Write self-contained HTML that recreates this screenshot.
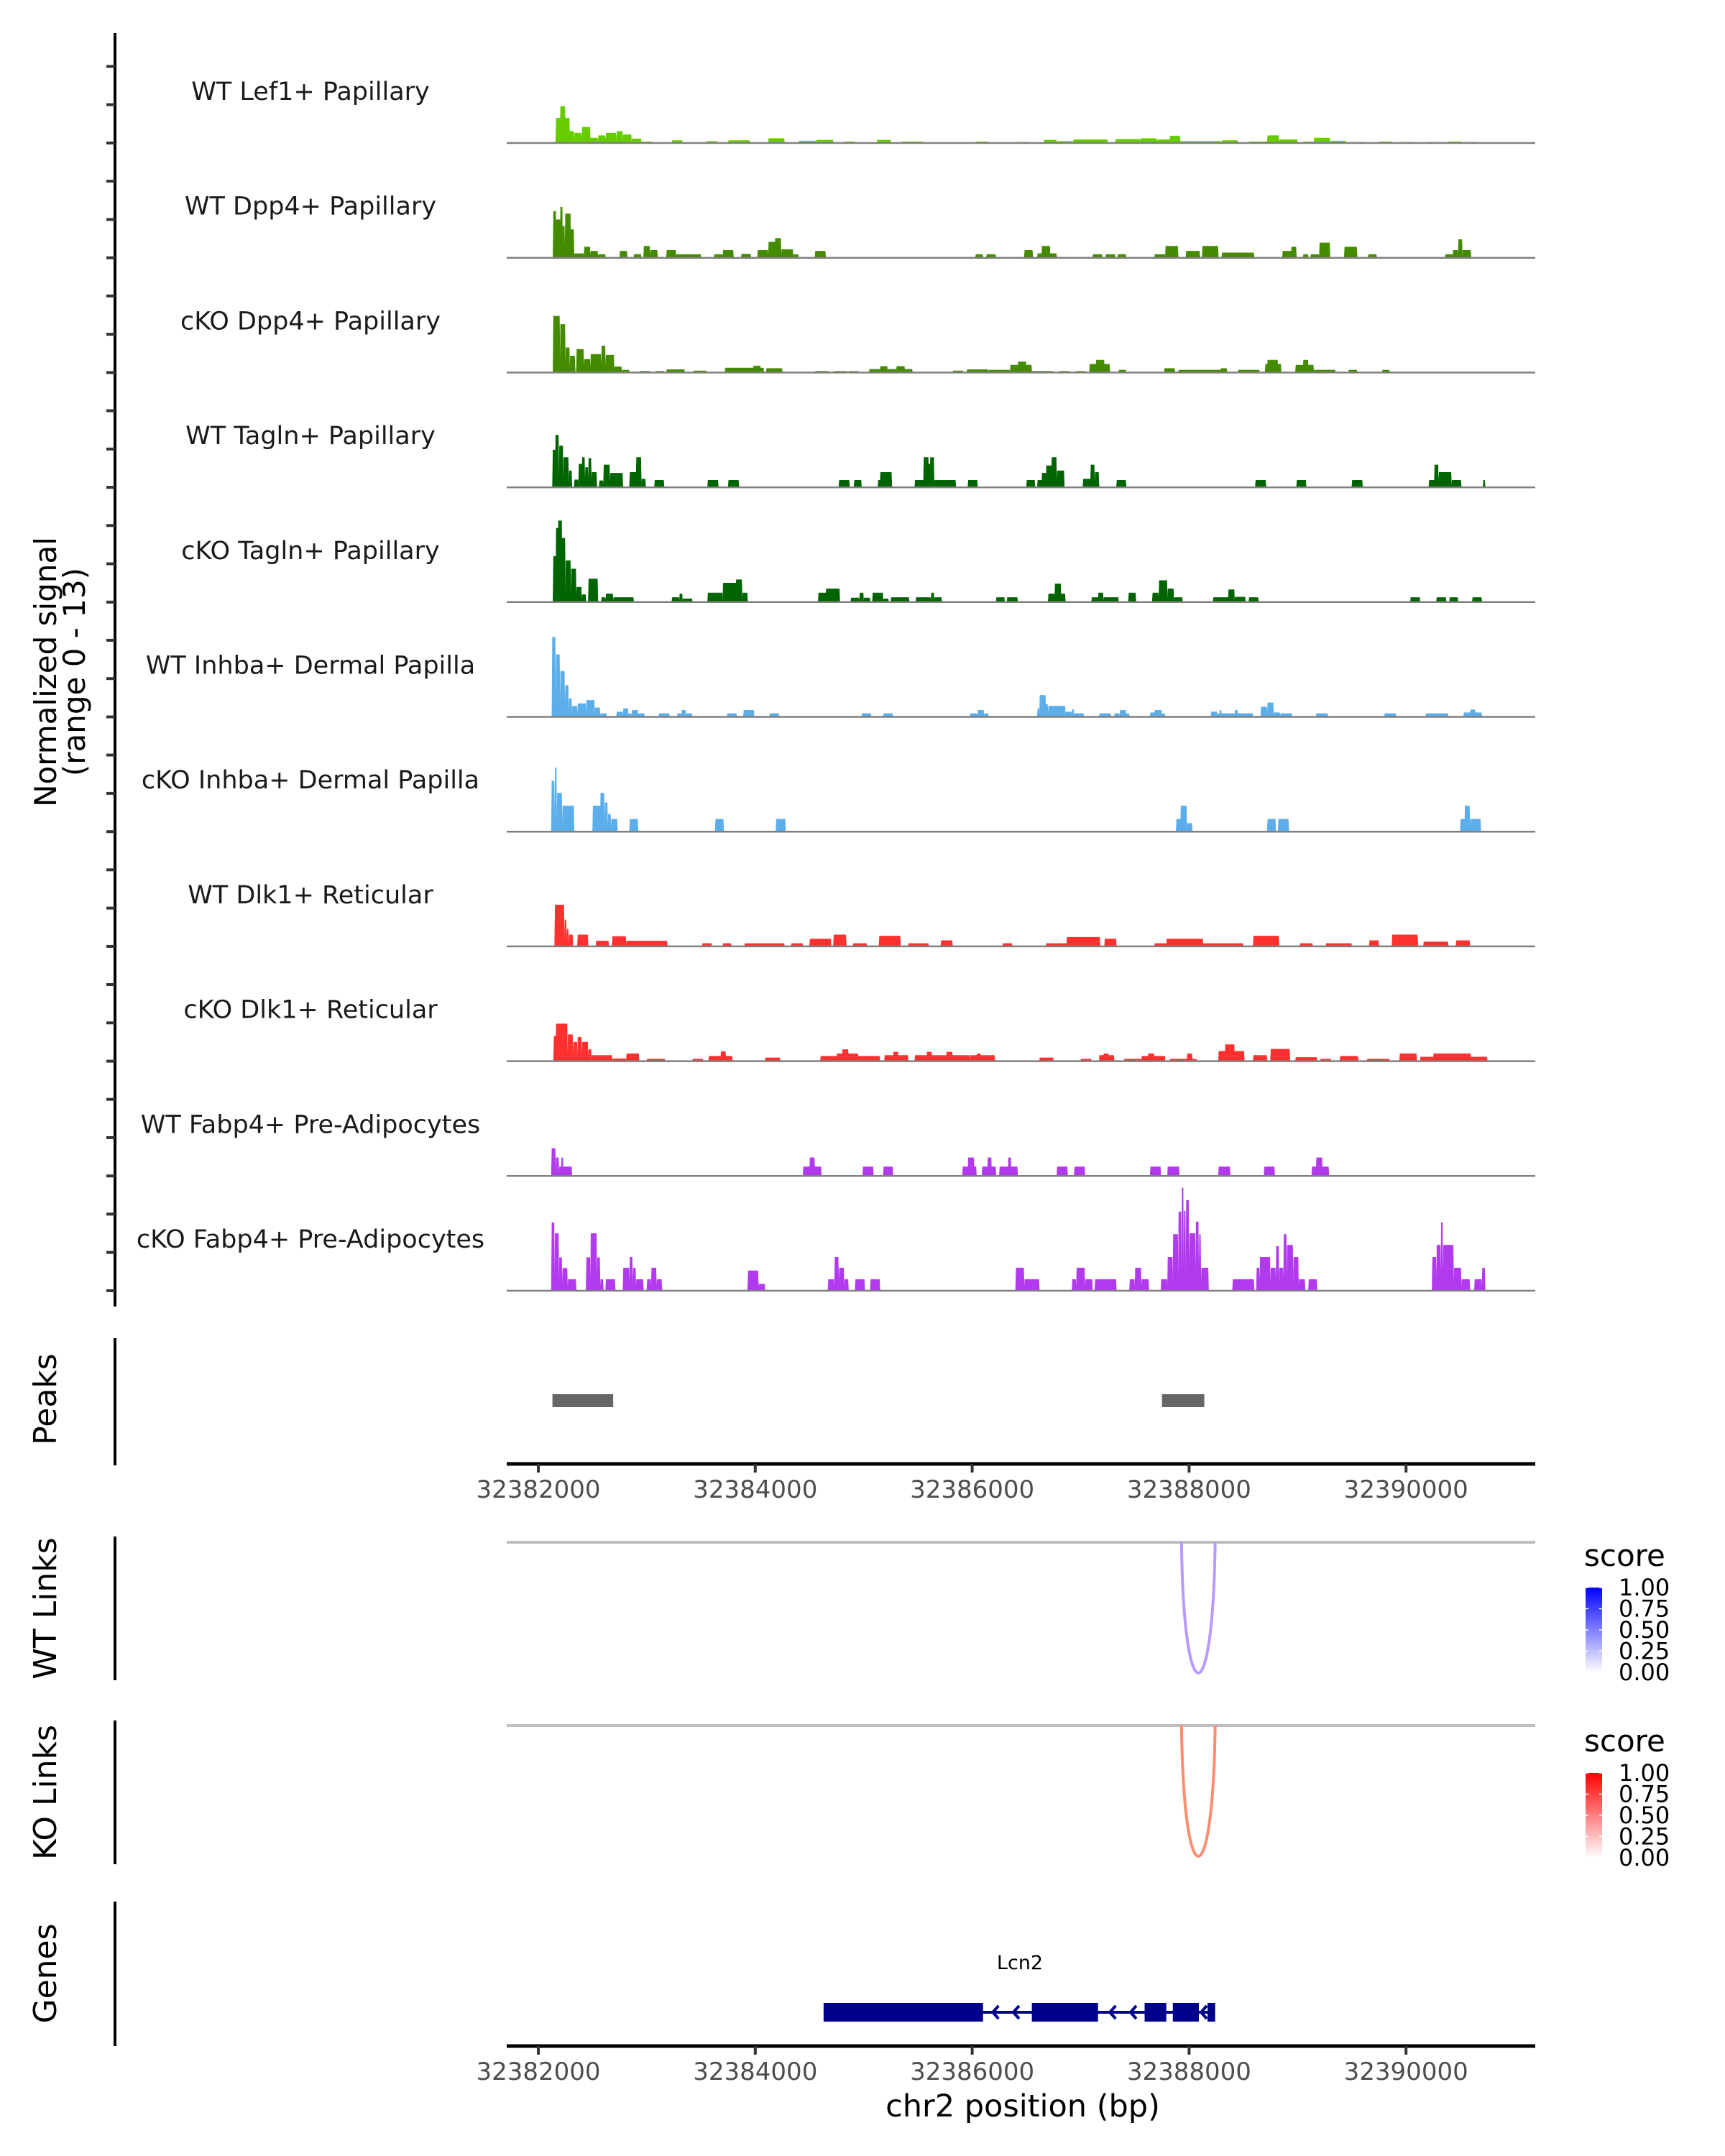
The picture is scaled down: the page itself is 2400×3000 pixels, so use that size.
<!DOCTYPE html>
<html><head><meta charset="utf-8"><style>
html,body{margin:0;padding:0;background:#fff;}
svg{display:block;font-family:"DejaVu Sans","Liberation Sans",sans-serif;}
</style></head><body>
<svg id="chart" width="2400" height="3000" viewBox="0 0 2400 3000" xmlns="http://www.w3.org/2000/svg">
<rect width="2400" height="3000" fill="#fff"/>
<g id="tracks"></g>
<text transform="translate(78,935) rotate(-90)" text-anchor="middle" font-size="42" fill="#000">Normalized signal</text>
<text transform="translate(118,935) rotate(-90)" text-anchor="middle" font-size="42" fill="#000">(range 0 - 13)</text>
<g id="lower"></g>
</svg>
<script>
const trackLabels = ["WT Lef1+ Papillary","WT Dpp4+ Papillary","cKO Dpp4+ Papillary","WT Tagln+ Papillary","cKO Tagln+ Papillary","WT Inhba+ Dermal Papilla","cKO Inhba+ Dermal Papilla","WT Dlk1+ Reticular","cKO Dlk1+ Reticular","WT Fabp4+ Pre-Adipocytes","cKO Fabp4+ Pre-Adipocytes"];
const trackColors = ["#66cc00","#458b00","#458b00","#006400","#006400","#5caeea","#5caeea","#ff3030","#ff3030","#b23aee","#b23aee"];
const genomeStart = 32382000;
const xTicks = [32382000,32384000,32386000,32388000,32390000];
// blocks: [start kb offset, end kb offset, normalized signal]
const wtLef1 = [[0.16,0.22,3.0],[0.20,0.25,4.4],[0.24,0.29,3.0],[0.28,0.33,1.4],[0.33,0.40,1.2],[0.40,0.48,1.9],[0.47,0.55,0.6],[0.55,0.62,0.9],[0.62,0.72,1.2],[0.72,0.78,1.4],[0.78,0.86,1.0],[0.86,0.95,0.5],[0.95,1.05,0.15],[1.23,1.33,0.3],[1.55,1.65,0.2],[1.75,1.95,0.3],[2.12,2.27,0.55],[2.40,2.56,0.25],[2.56,2.72,0.35],[2.82,2.92,0.15],[3.12,3.25,0.35],[3.35,3.55,0.15],[4.03,4.15,0.15],[4.40,4.52,0.1],[4.66,4.78,0.35],[4.78,4.93,0.2],[4.93,5.25,0.4],[5.32,5.55,0.45],[5.55,5.70,0.55],[5.70,5.85,0.4],[5.82,5.92,0.85],[5.92,6.30,0.2],[6.30,6.45,0.3],[6.55,6.75,0.15],[6.72,6.83,0.9],[6.83,7.00,0.4],[7.05,7.20,0.15],[7.15,7.30,0.6],[7.30,7.45,0.25],[7.52,7.62,0.1],[7.75,7.87,0.15],[7.95,8.05,0.1],[8.20,8.30,0.1],[8.38,8.52,0.15],[8.55,8.65,0.1]];
const wtDpp4 = [[0.135,0.165,5.6],[0.16,0.21,4.6],[0.20,0.225,6.1],[0.22,0.245,3.8],[0.245,0.30,5.3],[0.29,0.33,3.4],[0.33,0.42,0.5],[0.42,0.48,1.3],[0.48,0.55,0.8],[0.55,0.62,0.4],[0.75,0.82,0.8],[0.88,0.95,0.4],[0.97,1.03,1.4],[1.03,1.10,0.9],[1.18,1.27,0.9],[1.27,1.50,0.4],[1.62,1.70,0.4],[1.70,1.80,0.9],[1.87,1.96,0.45],[2.02,2.12,0.9],[2.12,2.22,1.9],[2.18,2.24,2.35],[2.24,2.35,1.0],[2.35,2.40,0.4],[2.55,2.65,0.8],[4.03,4.10,0.4],[4.13,4.22,0.4],[4.48,4.56,0.9],[4.60,4.78,0.5],[4.64,4.72,1.4],[5.11,5.20,0.4],[5.23,5.32,0.4],[5.34,5.42,0.4],[5.68,5.78,0.4],[5.78,5.90,1.4],[5.97,6.10,0.8],[6.12,6.27,1.4],[6.30,6.60,0.6],[6.86,6.95,0.8],[6.94,6.99,1.3],[7.05,7.10,0.4],[7.12,7.20,0.4],[7.20,7.30,1.8],[7.43,7.55,1.3],[7.65,7.73,0.4],[8.36,8.43,0.4],[8.43,8.48,0.9],[8.48,8.52,2.2],[8.52,8.60,0.9]];
const ckoDpp4 = [[0.135,0.20,6.8],[0.20,0.25,5.8],[0.25,0.29,3.0],[0.29,0.34,2.0],[0.35,0.42,2.8],[0.42,0.48,1.6],[0.48,0.58,2.2],[0.58,0.62,3.2],[0.62,0.70,2.1],[0.70,0.77,0.7],[0.77,0.84,0.3],[0.93,1.03,0.15],[1.08,1.16,0.15],[1.18,1.35,0.35],[1.43,1.55,0.2],[1.72,2.08,0.55],[1.98,2.05,0.8],[2.10,2.25,0.5],[2.55,2.68,0.15],[2.72,2.85,0.15],[2.86,2.95,0.15],[3.05,3.45,0.4],[3.15,3.22,0.75],[3.30,3.38,0.75],[3.82,3.92,0.2],[3.95,4.15,0.35],[4.15,4.35,0.3],[4.35,4.55,0.9],[4.42,4.50,1.3],[4.55,4.75,0.15],[4.80,4.90,0.15],[4.95,5.05,0.15],[5.08,5.27,1.0],[5.14,5.22,1.5],[5.35,5.42,0.3],[5.77,5.87,0.5],[5.90,6.35,0.3],[6.29,6.35,0.5],[6.45,6.65,0.3],[6.70,6.85,1.0],[6.72,6.82,1.5],[6.98,7.15,0.9],[7.05,7.10,1.5],[7.15,7.35,0.3],[7.47,7.55,0.3],[7.78,7.85,0.3]];
const wtTagln = [[0.13,0.16,4.5],[0.155,0.19,6.3],[0.19,0.23,5.0],[0.23,0.28,3.6],[0.28,0.31,2.0],[0.33,0.37,0.9],[0.37,0.42,2.8],[0.40,0.43,3.6],[0.43,0.46,2.4],[0.46,0.49,3.5],[0.49,0.54,1.8],[0.56,0.60,0.8],[0.60,0.66,2.7],[0.66,0.78,1.7],[0.84,0.92,1.8],[0.90,0.95,3.6],[0.95,0.99,1.0],[1.07,1.16,0.85],[1.56,1.66,0.85],[1.75,1.85,0.85],[2.77,2.87,0.85],[2.91,2.98,0.85],[3.13,3.20,0.85],[3.15,3.26,1.8],[3.47,3.56,0.85],[3.55,3.60,3.6],[3.59,3.62,2.8],[3.61,3.65,3.6],[3.65,3.85,0.85],[3.96,4.05,0.85],[4.50,4.58,0.85],[4.60,4.66,0.85],[4.64,4.70,1.7],[4.68,4.74,2.6],[4.73,4.78,3.6],[4.78,4.85,2.0],[5.02,5.10,1.0],[5.09,5.13,2.7],[5.13,5.17,1.8],[5.33,5.42,0.85],[6.61,6.71,0.85],[6.99,7.08,0.85],[7.50,7.60,0.85],[8.21,8.27,0.85],[8.26,8.30,2.7],[8.30,8.42,1.8],[8.42,8.51,0.85],[8.71,8.73,0.85]];
const ckoTagln = [[0.135,0.17,5.5],[0.16,0.19,8.9],[0.18,0.22,9.8],[0.21,0.25,7.7],[0.25,0.30,5.0],[0.30,0.35,4.0],[0.35,0.40,1.8],[0.40,0.44,0.9],[0.46,0.55,2.8],[0.58,0.62,0.55],[0.62,0.69,1.0],[0.69,0.88,0.55],[1.23,1.30,0.55],[1.30,1.33,1.0],[1.33,1.42,0.4],[1.56,1.70,1.1],[1.70,1.85,2.3],[1.82,1.88,2.7],[1.88,1.93,1.1],[2.58,2.70,1.1],[2.65,2.78,1.6],[2.88,2.96,0.5],[2.96,3.00,1.1],[3.00,3.06,0.5],[3.08,3.18,1.1],[3.18,3.23,0.4],[3.25,3.42,0.55],[3.48,3.62,0.55],[3.62,3.65,1.1],[3.65,3.72,0.55],[4.22,4.30,0.55],[4.32,4.42,0.55],[4.70,4.80,1.0],[4.76,4.82,2.2],[4.80,4.86,1.0],[5.10,5.18,0.55],[5.16,5.21,1.1],[5.21,5.35,0.55],[5.44,5.51,1.1],[5.66,5.72,1.1],[5.72,5.80,2.6],[5.80,5.86,1.6],[5.86,5.94,0.55],[6.22,6.38,0.55],[6.36,6.42,1.5],[6.42,6.52,0.6],[6.55,6.64,0.55],[8.04,8.13,0.55],[8.28,8.37,0.55],[8.40,8.48,0.55],[8.61,8.70,0.55]];
const wtInhba = [[0.125,0.16,9.6],[0.16,0.20,7.5],[0.20,0.245,5.5],[0.245,0.28,3.8],[0.28,0.31,2.2],[0.31,0.36,1.3],[0.36,0.44,1.6],[0.44,0.52,2.0],[0.52,0.57,1.1],[0.57,0.63,0.4],[0.72,0.78,0.6],[0.78,0.83,1.0],[0.83,0.86,0.4],[0.86,0.92,0.8],[0.92,0.98,0.4],[1.11,1.21,0.4],[1.28,1.32,0.4],[1.32,1.36,0.8],[1.36,1.42,0.4],[1.74,1.83,0.4],[1.89,1.99,0.8],[2.13,2.22,0.4],[2.98,3.07,0.4],[3.18,3.27,0.4],[3.98,4.05,0.4],[4.05,4.11,0.8],[4.11,4.15,0.4],[4.60,4.62,1.0],[4.62,4.68,2.6],[4.66,4.70,1.5],[4.70,4.86,1.3],[4.86,4.92,0.6],[4.92,4.94,0.9],[4.94,5.03,0.4],[5.17,5.28,0.4],[5.31,5.36,0.4],[5.36,5.42,0.8],[5.42,5.45,0.4],[5.64,5.69,0.5],[5.68,5.75,0.8],[5.75,5.78,0.4],[6.20,6.26,0.6],[6.26,6.59,0.4],[6.28,6.30,0.8],[6.42,6.45,0.8],[6.66,6.72,1.2],[6.72,6.78,1.7],[6.78,6.84,0.5],[6.84,6.95,0.4],[7.17,7.28,0.4],[7.80,7.91,0.4],[8.18,8.39,0.4],[8.53,8.70,0.5],[8.59,8.64,0.85]];
const ckoInhba = [[0.12,0.15,6.1],[0.15,0.17,7.7],[0.17,0.22,4.65],[0.22,0.33,3.1],[0.50,0.58,3.1],[0.57,0.61,4.65],[0.61,0.64,3.5],[0.64,0.67,2.1],[0.67,0.73,1.5],[0.84,0.92,1.5],[1.63,1.71,1.5],[2.19,2.28,1.5],[5.88,5.93,1.5],[5.92,5.98,3.1],[5.98,6.03,1.0],[6.72,6.80,1.5],[6.82,6.92,1.5],[8.50,8.55,1.5],[8.54,8.59,3.1],[8.59,8.69,1.5]];
const wtDlk1 = [[0.15,0.24,5.0],[0.24,0.26,3.2],[0.26,0.28,2.1],[0.28,0.32,1.4],[0.36,0.46,1.4],[0.53,0.65,0.65],[0.68,0.81,1.2],[0.81,1.19,0.65],[1.51,1.60,0.36],[1.70,1.78,0.36],[1.90,2.27,0.36],[2.33,2.44,0.36],[2.50,2.70,0.9],[2.72,2.84,1.4],[2.90,3.03,0.36],[3.14,3.34,1.25],[3.41,3.60,0.36],[3.71,3.82,0.7],[4.28,4.37,0.36],[4.68,4.87,0.36],[4.87,5.18,1.1],[5.22,5.33,0.9],[5.68,5.79,0.36],[5.79,6.13,0.9],[6.13,6.50,0.36],[6.59,6.83,1.25],[7.02,7.14,0.36],[7.26,7.50,0.36],[7.66,7.75,0.7],[7.87,8.11,1.4],[8.16,8.39,0.55],[8.46,8.59,0.7]];
const ckoDlk1 = [[0.14,0.17,3.0],[0.16,0.27,4.5],[0.27,0.32,3.2],[0.32,0.36,2.3],[0.36,0.40,2.9],[0.40,0.46,2.3],[0.46,0.49,1.4],[0.49,0.68,0.7],[0.68,0.81,0.3],[0.81,0.93,0.9],[1.00,1.17,0.25],[1.42,1.52,0.25],[1.57,1.79,0.6],[1.68,1.73,1.15],[2.09,2.23,0.4],[2.60,3.15,0.6],[2.75,2.95,0.9],[2.80,2.86,1.4],[3.19,3.41,0.7],[3.27,3.32,1.1],[3.47,3.98,0.7],[3.58,3.63,1.1],[3.76,3.82,1.1],[3.98,4.21,0.7],[4.04,4.08,0.9],[4.62,4.75,0.4],[5.00,5.10,0.25],[5.17,5.31,0.7],[5.21,5.26,0.9],[5.40,5.56,0.25],[5.56,5.78,0.6],[5.62,5.68,0.9],[5.82,6.07,0.25],[5.98,6.03,0.9],[6.27,6.51,1.2],[6.33,6.42,2.0],[6.59,6.72,0.7],[6.75,6.93,1.45],[6.98,7.18,0.45],[7.21,7.31,0.25],[7.39,7.56,0.6],[7.64,7.85,0.25],[7.94,8.10,0.9],[8.13,8.75,0.5],[8.25,8.60,0.9]];
const wtFabp4 = [[0.12,0.16,3.3],[0.16,0.19,2.2],[0.19,0.31,1.1],[0.21,0.23,2.2],[2.44,2.61,1.1],[2.50,2.55,2.2],[2.99,3.09,1.1],[3.18,3.27,1.1],[3.91,4.04,1.1],[3.96,4.02,2.2],[4.09,4.22,1.1],[4.14,4.18,2.2],[4.25,4.42,1.1],[4.33,4.36,2.2],[4.78,4.88,1.1],[4.94,5.04,1.1],[5.64,5.74,1.1],[5.80,5.91,1.1],[6.27,6.38,1.1],[6.69,6.79,1.1],[7.13,7.29,1.1],[7.17,7.23,2.2]];
const ckoFabp4 = [[0.12,0.15,8.2],[0.15,0.19,6.9],[0.19,0.22,4.0],[0.22,0.27,2.7],[0.27,0.35,1.35],[0.44,0.48,4.0],[0.48,0.54,6.9],[0.54,0.57,4.0],[0.57,0.60,1.35],[0.62,0.71,1.35],[0.78,0.84,2.75],[0.84,0.87,4.05],[0.87,0.90,2.75],[0.90,0.97,1.35],[1.00,1.04,1.35],[1.04,1.09,2.75],[1.09,1.14,1.35],[1.93,2.03,2.4],[2.03,2.09,0.8],[2.67,2.73,1.35],[2.73,2.77,4.05],[2.77,2.82,2.75],[2.82,2.86,1.35],[2.92,3.01,1.35],[3.06,3.15,1.35],[4.40,4.48,2.75],[4.48,4.62,1.35],[4.92,4.96,1.35],[4.96,5.04,2.75],[5.04,5.11,1.35],[5.13,5.33,1.35],[5.45,5.50,1.35],[5.50,5.56,2.75],[5.56,5.63,1.35],[5.74,5.80,1.35],[5.80,5.85,4.05],[5.85,5.90,6.8],[5.90,5.93,9.5],[5.93,5.95,12.4],[5.95,5.97,9.6],[5.97,6.00,10.9],[6.00,6.06,6.9],[6.06,6.09,8.3],[6.09,6.11,6.8],[6.11,6.18,2.75],[6.40,6.60,1.35],[6.62,6.65,2.75],[6.65,6.75,4.05],[6.75,6.80,2.75],[6.80,6.83,5.35],[6.83,6.87,2.75],[6.87,6.90,6.8],[6.90,6.96,5.5],[6.96,7.01,4.05],[7.01,7.07,1.35],[7.10,7.18,1.35],[8.24,8.28,4.05],[8.28,8.32,5.5],[8.32,8.34,8.2],[8.34,8.44,5.5],[8.44,8.51,2.75],[8.51,8.59,1.35],[8.63,8.70,1.35],[8.70,8.73,2.75]];
const peakStarts = [0.13,5.75];
const peakEnds = [0.69,6.14];
const wtLinkStart = [5.93], wtLinkEnd = [6.24], wtLinkScore = [0.35];
const koLinkStart = [5.93], koLinkEnd = [6.24], koLinkScore = [0.45];
const exonStarts = [2.63,4.55,5.59,5.85,6.17];
const exonEnds = [4.10,5.16,5.79,6.09,6.24];
const arrowPos = [4.19,4.38,5.27,5.46,6.11];
const legendTicks = ["1.00","0.75","0.50","0.25","0.00"];

const allTracks = [wtLef1,wtDpp4,ckoDpp4,wtTagln,ckoTagln,wtInhba,ckoInhba,wtDlk1,ckoDlk1,wtFabp4,ckoFabp4];
const NS='http://www.w3.org/2000/svg';
const X0=705, X1=2136;
function xKb(kb){return 749 + kb*150.9;}
function xBp(bp){return xKb((bp-genomeStart)/1000);}
function yVal(v){return v*11.54;}
function baseY(i){return 199 + i*159.7;}
function mk(tag,attrs,parent){const e=document.createElementNS(NS,tag);for(const k in attrs)e.setAttribute(k,attrs[k]);parent.appendChild(e);return e;}

const tg=document.getElementById('tracks');
let ax=mk('line',{x1:160,y1:46,x2:160,y2:1818,stroke:'#000','stroke-width':4},tg);


for(let i=0;i<allTracks.length;i++){
  for(let k=0;k<3;k++){
    const ty=baseY(i)-k*53.3;
    const t=mk('line',{x1:148,y1:ty,x2:160,y2:ty,stroke:'#333','stroke-width':4},tg);
    
    
  }
}
allTracks.forEach((blocks,i)=>{
  const g=mk('g',{},tg);
  
  
  const by=baseY(i);
  blocks.forEach(b=>{
    const x1=xKb(b[0]), x2=xKb(b[1]), h=yVal(b[2]);
    const p=mk('polygon',{points:`${x1},${by} ${x1+0.8},${by-h} ${x2-0.8},${by-h} ${x2},${by}`,fill:trackColors[i],stroke:trackColors[i],'stroke-width':0.6},g);
    
    
  });
  const bl=mk('line',{x1:X0,y1:by,x2:X1,y2:by,stroke:'#7f7f7f','stroke-width':2.5},g);
  
  
  const lt=mk('text',{x:432,y:by-60,'text-anchor':'middle','font-size':35,fill:'#1a1a1a'},g);
  lt.textContent=trackLabels[i];
  
  
});

const lg=document.getElementById('lower');
function panelLabel(txt,cy,name){
  const t=mk('text',{transform:`translate(78,${cy}) rotate(-90)`,'text-anchor':'middle','font-size':44,fill:'#000'},lg);
  t.textContent=txt;
  
  
}
function vline(y1,y2,name){
  const l=mk('line',{x1:160,y1:y1,x2:160,y2:y2,stroke:'#000','stroke-width':4},lg);
  
  
}
function xAxis(y,name){
  const g=mk('g',{},lg);
  
  
  mk('line',{x1:X0,y1:y,x2:X1,y2:y,stroke:'#000','stroke-width':5},g);
  xTicks.forEach(t=>{
    const x=xBp(t);
    const tk=mk('line',{x1:x,y1:y,x2:x,y2:y+12,stroke:'#333','stroke-width':4},g);
    
    
    const tl=mk('text',{x:x,y:y+47,'text-anchor':'middle','font-size':34,fill:'#4d4d4d'},g);
    tl.textContent=String(t);
    
    
  });
}
panelLabel('Peaks',1947,'peaks-panel-label');
vline(1862,2039,'peaks-axis-line');
peakStarts.forEach((s,i)=>{
  const r=mk('rect',{x:xKb(s),y:1940,width:xKb(peakEnds[i])-xKb(s),height:18,fill:'#666'},lg);
  
  
});
xAxis(2037,'peaks-x-axis');
function links(starts,ends,scores,baseYv,depth,color,label,cy,vy1,vy2,name){
  panelLabel(label,cy,name+'-label');
  vline(vy1,vy2,name+'-axis-line');
  const bl=mk('line',{x1:X0,y1:baseYv,x2:X1,y2:baseYv,stroke:'#bebebe','stroke-width':4},lg);
  
  
  starts.forEach((s,i)=>{
    const a=xKb(s), b=xKb(ends[i]), d=depth*1.333;
    const p=mk('path',{d:`M${a},${baseYv} C${a+3},${baseYv+d} ${b-3},${baseYv+d} ${b},${baseYv}`,fill:'none',stroke:color,'stroke-width':4},lg);
    
    
  });
}
links(wtLinkStart,wtLinkEnd,wtLinkScore,2146,182,'#b899ff','WT Links',2238,2138,2338,'wt-links');
links(koLinkStart,koLinkEnd,koLinkScore,2401,182,'#ff8c6e','KO Links',2494,2394,2594,'ko-links');
function legend(topY,col,name){
  const g=mk('g',{},lg);
  
  
  const t=mk('text',{x:2204,y:topY-30,'font-size':42,fill:'#000'},g);
  t.textContent='score';
  const defs=mk('defs',{},g);
  const gr=mk('linearGradient',{id:name+'-grad',x1:0,y1:1,x2:0,y2:0},defs);
  mk('stop',{offset:0,'stop-color':'#ffffff'},gr);
  mk('stop',{offset:1,'stop-color':col},gr);
  const r=mk('rect',{x:2206,y:topY,width:23,height:118,fill:`url(#${name}-grad)`},g);
  
  
  legendTicks.forEach((lbl,i)=>{
    const y=topY+i*29.5;
    mk('line',{x1:2206,y1:y,x2:2210,y2:y,stroke:'#fff','stroke-width':1.5},g);
    mk('line',{x1:2225,y1:y,x2:2229,y2:y,stroke:'#fff','stroke-width':1.5},g);
    const tx=mk('text',{x:2252,y:y+11,'font-size':32,fill:'#000'},g);
    tx.textContent=lbl;
  });
}
legend(2209,'#0000ff','wt-score-legend');
legend(2467,'#ff0000','ko-score-legend');
panelLabel('Genes',2746,'genes-panel-label');
vline(2646,2847,'genes-axis-line');
const gg=mk('g',{},lg);


mk('line',{x1:xKb(exonStarts[0]),y1:2800,x2:xKb(exonEnds[exonEnds.length-1]),y2:2800,stroke:'#00008b','stroke-width':4},gg);
exonStarts.forEach((s,i)=>{
  const r=mk('rect',{x:xKb(s),y:2787,width:xKb(exonEnds[i])-xKb(s),height:26,fill:'#00008b'},gg);
  
  
});
arrowPos.forEach(a=>{
  const x=xKb(a);
  const p=mk('path',{d:`M${x+8},${2791} L${x},${2800} L${x+8},${2809}`,fill:'none',stroke:'#00008b','stroke-width':4},gg);
  
  
});
const gl=mk('text',{x:1419,y:2740,'text-anchor':'middle','font-size':27,fill:'#000'},gg);
gl.textContent='Lcn2';


xAxis(2847,'genes-x-axis');
const xt=mk('text',{x:1423,y:2945,'text-anchor':'middle','font-size':43,fill:'#000'},lg);
xt.textContent='chr2 position (bp)';


</script>
</body></html>
